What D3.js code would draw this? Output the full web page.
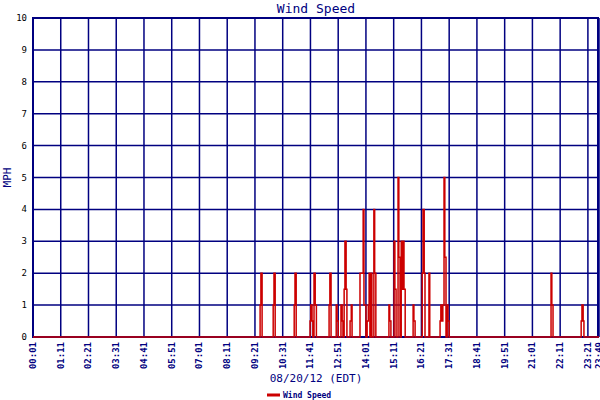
<!DOCTYPE html>
<html><head><meta charset="utf-8">
<script src="https://cdn.jsdelivr.net/npm/d3@7"></script>
<style>body{margin:0;background:#fff}text{font-family:"DejaVu Sans Mono",monospace;fill:#000080}</style>
</head><body>
<script>
// wind speed readings (time, mph); each gust falls back to 0
var times = ["00:01","09:34","09:36","09:39","10:07","10:09","10:12","11:00","11:02","11:05",
  "11:40","11:42","11:45","11:47","11:50","11:53","11:56","12:28","12:30","12:33",
  "12:46","12:48","12:51","12:58","13:01","13:03","13:06","13:08","13:11","13:13","13:21","13:24","13:26",
  "13:46","13:54","13:56","13:59","14:01","14:04","14:07","14:09","14:11","14:14","14:16","14:21","14:23","14:26",
  "14:59","15:01","15:04","15:12","15:14","15:17","15:22","15:24","15:27","15:30","15:32","15:35","15:37","15:40",
  "16:00","16:02","16:05","16:23","16:25","16:28","16:30","16:40","16:42",
  "17:08","17:10","17:13","17:15","17:18","17:20","17:23","17:26","17:28","17:31",
  "21:48","21:50","21:53","23:04","23:06","23:09","23:11","23:49"];
var speeds = [0,1,2,0,1,2,0,1,2,0,
  0.5,1,0.5,0,2,1,0,1,2,0,
  1,0.5,0,1,0.5,0,1.5,3,1.5,0,0.5,1,0,
  2,4,1,1,0,0.5,1,2,0,2,0,4,2,0,
  1,0.5,0,3,1.5,0,5,2.5,0,3,1.5,3,1.5,0,
  1,0.5,0,2,4,2,0,2,0,
  0.5,1,0.5,1,5,2.5,0,1,0.5,0,
  2,1,0,0.5,1,0.5,0,0];
var xTicks = ["00:01","01:11","02:21","03:31","04:41","05:51","07:01","08:11","09:21","10:31","11:41",
  "12:51","14:01","15:11","16:21","17:31","18:41","19:51","21:01","22:11","23:21","23:49"];
var yTicks = [0,1,2,3,4,5,6,7,8,9,10];

function mins(s){ var p = s.split(":"); return +p[0]*60 + +p[1]; }

var W = 600, H = 400, m = {l:33, r:1, t:18, b:63};
var svg = d3.select("body").append("svg").attr("width", W).attr("height", H);
var x = d3.scaleLinear().domain([mins("00:01"), mins("23:49")]).range([m.l, W - m.r]);
var y = d3.scaleLinear().domain([0, 10]).range([H - m.b, m.t]);

// grid
svg.append("g").selectAll("line").data(xTicks).join("line")
  .attr("x1", d => x(mins(d))).attr("x2", d => x(mins(d)))
  .attr("y1", y(0)).attr("y2", y(10)).attr("stroke", "#000080").attr("stroke-width", 1.5);
svg.append("g").selectAll("line").data(yTicks).join("line")
  .attr("x1", x.range()[0]).attr("x2", x.range()[1])
  .attr("y1", d => y(d)).attr("y2", d => y(d)).attr("stroke", "#000080").attr("stroke-width", 1.5);
svg.append("rect").attr("x", m.l).attr("y", m.t).attr("width", W - m.l - m.r - 1).attr("height", y(0) - m.t)
  .attr("fill", "none").attr("stroke", "#000080").attr("stroke-width", 2);

// data line
var pts = times.map((t, i) => ({t: mins(t), v: speeds[i]}));
svg.append("path").datum(pts)
  .attr("d", d3.line().x(d => x(d.t)).y(d => y(d.v)).curve(d3.curveStepAfter))
  .attr("fill", "none").attr("stroke", "#cc0000").attr("stroke-width", 1.5);

// tick labels
svg.append("g").selectAll("text").data(yTicks).join("text")
  .attr("x", 27).attr("y", d => y(d) + 3).attr("text-anchor", "end").attr("font-size", 9)
  .style("fill", "#000").text(d => d);
svg.append("g").selectAll("text").data(xTicks).join("text")
  .attr("transform", d => "translate(" + (x(mins(d)) + 3) + "," + (y(0) + 5) + ") rotate(-90)")
  .attr("text-anchor", "end").attr("font-size", 9).attr("font-weight", "bold").text(d => d);

// titles
svg.append("text").attr("x", 316).attr("y", 13).attr("text-anchor", "middle").attr("font-size", 13).text("Wind Speed");
svg.append("text").attr("transform", "translate(11," + (y(5)) + ") rotate(-90)")
  .attr("text-anchor", "middle").attr("font-size", 11).text("MPH");
svg.append("text").attr("x", 316).attr("y", 382).attr("text-anchor", "middle").attr("font-size", 11).text("08/20/12 (EDT)");

// legend
svg.append("line").attr("x1", 267).attr("x2", 280).attr("y1", 395).attr("y2", 395)
  .attr("stroke", "#cc0000").attr("stroke-width", 3);
svg.append("text").attr("x", 283).attr("y", 398).attr("font-size", 8).attr("font-weight", "bold").text("Wind Speed");
</script>
</body></html>
